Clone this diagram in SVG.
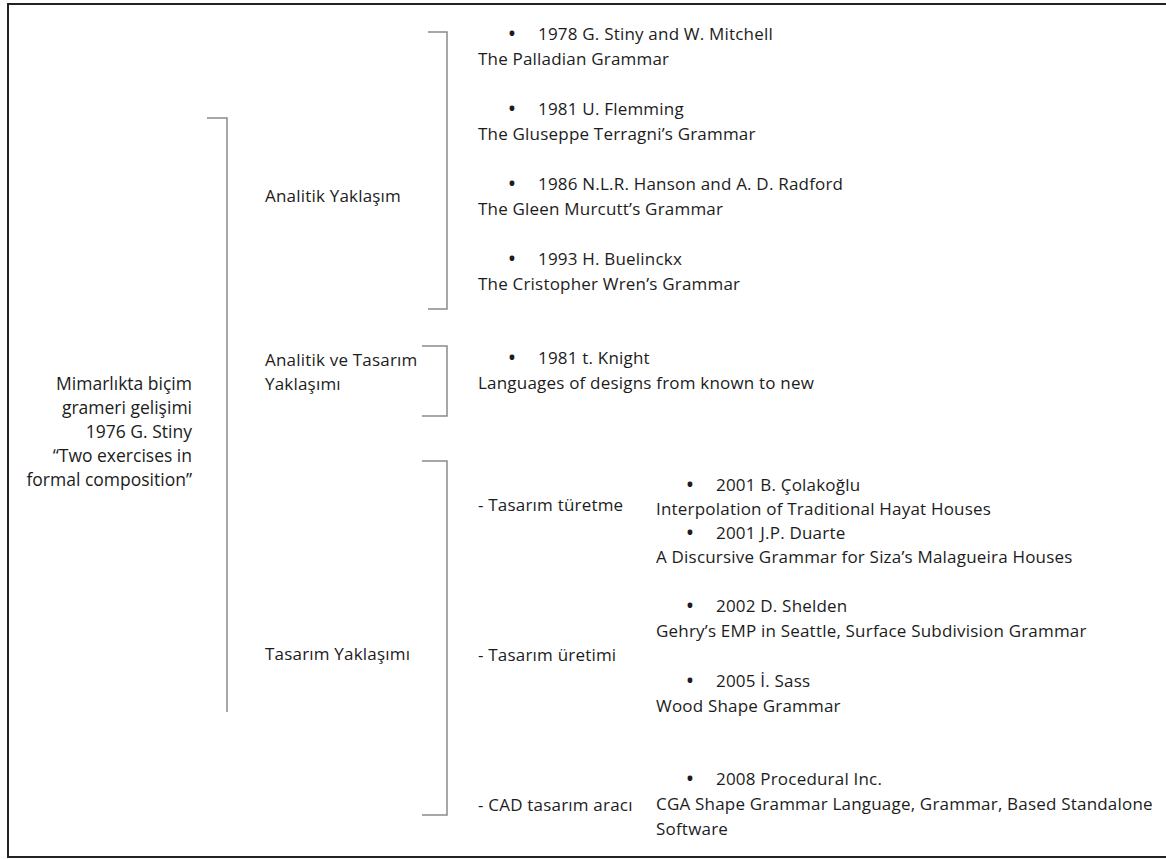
<svg xmlns="http://www.w3.org/2000/svg" width="1166" height="860" viewBox="0 0 1166 860">
<style>
text{font-family:"Open Sans","Liberation Sans",Arial,sans-serif;font-size:17px;letter-spacing:0.2px;fill:#1c1c1c}
.r{text-anchor:end;font-size:17.5px;letter-spacing:0}
.b{font-size:17px;font-weight:bold;text-anchor:middle;letter-spacing:0}
.br{fill:none;stroke:#8a8a8a;stroke-width:1.5}
.frame{fill:none;stroke:#222;stroke-width:2}
</style>
<rect width="1166" height="860" fill="#fff"/>
<path class="frame" d="M1166,4 H8 V857 H1166"/>
<g id="connectors">
<path class="br" d="M207,118 H227 V712"/>
<path class="br" d="M428,32 H447 V309 H428"/>
<path class="br" d="M422,346 H447 V416 H422"/>
<path class="br" d="M422,461 H447 V815 H422"/>
</g>
<g id="root">
<text class="r" x="192" y="390">Mimarlıkta biçim</text>
<text class="r" x="192" y="414">grameri gelişimi</text>
<text class="r" x="192" y="438">1976 G. Stiny</text>
<text class="r" x="192" y="462">“Two exercises in</text>
<text class="r" x="192" y="486">formal composition”</text>
</g>
<g id="analitik"><text x="265" y="202">Analitik Yaklaşım</text></g>
<g id="analitik-tasarim"><text x="265" y="366">Analitik ve Tasarım</text><text x="265" y="390">Yaklaşımı</text></g>
<g id="tasarim"><text x="265" y="660">Tasarım Yaklaşımı</text></g>
<g id="a1"><text class="b" x="512" y="40">•</text><text x="538" y="40">1978 G. Stiny and W. Mitchell</text><text x="478" y="65">The Palladian Grammar</text></g>
<g id="a2"><text class="b" x="512" y="115">•</text><text x="538" y="115">1981 U. Flemming</text><text x="478" y="140">The Gluseppe Terragni’s Grammar</text></g>
<g id="a3"><text class="b" x="512" y="190">•</text><text x="538" y="190">1986 N.L.R. Hanson and A. D. Radford</text><text x="478" y="215">The Gleen Murcutt’s Grammar</text></g>
<g id="a4"><text class="b" x="512" y="265">•</text><text x="538" y="265">1993 H. Buelinckx</text><text x="478" y="290">The Cristopher Wren’s Grammar</text></g>
<g id="k1"><text class="b" x="512" y="364">•</text><text x="538" y="364">1981 t. Knight</text><text x="478" y="389">Languages of designs from known to new</text></g>
<g id="sub1"><text x="478" y="511">- Tasarım türetme</text></g>
<g id="sub2"><text x="478" y="661">- Tasarım üretimi</text></g>
<g id="sub3"><text x="478" y="811">- CAD tasarım aracı</text></g>
<g id="t1"><text class="b" x="690" y="491">•</text><text x="716" y="491">2001 B. Çolakoğlu</text><text x="656" y="515">Interpolation of Traditional Hayat Houses</text></g>
<g id="t2"><text class="b" x="690" y="539">•</text><text x="716" y="539">2001 J.P. Duarte</text><text x="656" y="563">A Discursive Grammar for Siza’s Malagueira Houses</text></g>
<g id="t3"><text class="b" x="690" y="612">•</text><text x="716" y="612">2002 D. Shelden</text><text x="656" y="637">Gehry’s EMP in Seattle, Surface Subdivision Grammar</text></g>
<g id="t4"><text class="b" x="690" y="687">•</text><text x="716" y="687">2005 İ. Sass</text><text x="656" y="712">Wood Shape Grammar</text></g>
<g id="t5"><text class="b" x="690" y="785">•</text><text x="716" y="785">2008 Procedural Inc.</text><text x="656" y="810">CGA Shape Grammar Language, Grammar, Based Standalone</text><text x="656" y="835">Software</text></g>
</svg>
